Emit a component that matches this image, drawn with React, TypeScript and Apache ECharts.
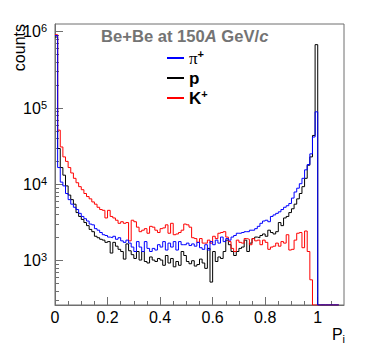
import React, { useEffect, useRef } from "react";
import * as echarts from "echarts";

// ---- histogram binning (bin i covers [i*BIN_WIDTH, (i+1)*BIN_WIDTH]) ----
const BIN_WIDTH = 0.01;

// ---- axis ranges ----
const X_MIN = 0;
const X_MAX = 1.1;
const Y_MIN_COUNT = 263;
const Y_MAX_COUNT = 1260000;

// ---- series: counts per bin ----
const pionCounts = [
  891000, 16600, 10700, 9550, 7590, 6310, 5500, 5010, 4680, 4170,
  3800, 3550, 3310, 3020, 2950, 2630, 2510, 2340, 2190, 2140,
  2040, 2000, 2090, 1910, 2000, 1820, 1740, 1860, 1700, 1510,
  1320, 1780, 1510, 1320, 1780, 1450, 1320, 1450, 1380, 1620,
  1510, 1780, 1380, 1700, 1510, 1780, 1380, 1780, 1620, 1620,
  1700, 1580, 1660, 1550, 1740, 1480, 1410, 1620, 1380, 1780,
  1620, 1860, 1700, 2040, 1780, 1950, 1860, 2040, 2140, 2290,
  2290, 2340, 2400, 2400, 2510, 2510, 2630, 2820, 3090, 3310,
  3390, 3240, 3800, 3980, 4170, 4370, 4680, 5010, 5250, 5620,
  6610, 7940, 8910, 10200, 12000, 15500, 18200, 25100, 41700, 89100,
  0, 0, 0, 0, 0, 0, 0, 0,
];

const protonCounts = [
  851000, 29500, 16600, 13200, 9550, 7240, 6310, 5500, 4270, 3800,
  3470, 3160, 2880, 2570, 2400, 2090, 2000, 1910, 1860, 1740,
  1780, 1260, 1740, 1550, 1410, 1320, 1050, 1660, 1350, 1200,
  1070, 1320, 1020, 1320, 977, 933, 1120, 1020, 977, 1070,
  1020, 871, 1170, 933, 1070, 832, 977, 871, 1320, 1170,
  977, 912, 1000, 851, 891, 1050, 933, 794, 1450, 525,
  1320, 977, 1120, 1070, 1320, 1860, 1620, 1320, 1170, 1320,
  1450, 1510, 1860, 1320, 1700, 1950, 2040, 2000, 2140, 2240,
  2090, 2510, 2340, 2240, 2400, 3160, 2880, 3630, 3800, 4270,
  4790, 5500, 6460, 7590, 9330, 12000, 17800, 22900, 43700, 676000,
  0, 0, 0, 0, 0, 0, 0, 0,
];

const kaonCounts = [
  912000, 51300, 30900, 22900, 20000, 16600, 14100, 12000, 10500, 9330,
  8510, 7590, 6920, 6460, 5890, 5500, 5010, 4680, 4570, 3630,
  4570, 3800, 3630, 3390, 3090, 3240, 3090, 3160, 1820, 3390,
  3240, 2750, 2400, 2510, 2630, 2290, 2820, 2750, 2510, 2340,
  2630, 2690, 2950, 2290, 3090, 2190, 2240, 2340, 2510, 3020,
  2950, 2750, 2000, 1950, 1740, 1950, 1700, 1700, 1860, 1700,
  2090, 1950, 2290, 2340, 2400, 2040, 1780, 1450, 1320, 1860,
  1740, 1700, 1950, 1910, 1620, 1950, 1820, 1860, 1620, 1860,
  1740, 1410, 1510, 1550, 1700, 1550, 1780, 1700, 2190, 1380,
  1410, 1860, 2290, 2340, 1480, 2450, 1320, 562, 0, 0,
  0, 0, 0, 0, 0, 0, 0, 0,
];

// ---- ticks ----
const xMajorTicks = [0, 0.2, 0.4, 0.6, 0.8, 1.0];
const xMinorTicks = [0.05, 0.1, 0.15, 0.25, 0.3, 0.35, 0.45, 0.5, 0.55, 0.65, 0.7, 0.75, 0.85, 0.9, 0.95, 1.05];
const yDecadeExponents = [3, 4, 5, 6];
const yMinorDecades = [2, 3, 4, 5];
const yMinorMantissas = [2, 3, 4, 5, 6, 7, 8, 9];

const FONT = "'Liberation Sans', Arial, Helvetica, sans-serif";
const FRAME = "#6f6f6f";

const LOG_MIN = Math.log10(Y_MIN_COUNT);
const LOG_MAX = Math.log10(Y_MAX_COUNT);

const toLog = (c: number) => (c > 0 ? Math.log10(c) : LOG_MIN);

function histPoints(counts: number[]) {
  const pts: number[][] = [];
  counts.forEach((c, i) => pts.push([i * BIN_WIDTH, toLog(c)]));
  pts.push([counts.length * BIN_WIDTH, toLog(counts[counts.length - 1])]);
  return pts;
}

const yMinorTicks: number[] = [];
yMinorDecades.forEach((d) =>
  yMinorMantissas.forEach((m) => {
    const v = Math.log10(m) + d;
    if (v >= LOG_MIN && v <= LOG_MAX) yMinorTicks.push(v);
  })
);

export default function App() {
  const ref = useRef<HTMLDivElement>(null);

  useEffect(() => {
    if (!ref.current) return;
    const chart = echarts.init(ref.current, undefined, { renderer: "svg" });

    const mkSeries = (name: string, counts: number[], color: string) => ({
      name,
      type: "line",
      step: "end",
      data: histPoints(counts),
      showSymbol: false,
      symbol: "none",
      color,
      lineStyle: { color, width: 1 },
      clip: true,
      xAxisIndex: 0,
      yAxisIndex: 0,
    });

    chart.setOption({
      animation: false,
      textStyle: { fontFamily: FONT },
      grid: {
        left: 55,
        top: 24,
        right: 30,
        bottom: 59,
        show: true,
        borderColor: FRAME,
        borderWidth: 1,
        outerBoundsMode: "none",
      },
      title: {
        text: "{n|Be+Be at 150}{i|A}{n| GeV/}{i|c}",
        left: 101,
        top: 27,
        padding: 0,
        textStyle: {
          rich: {
            n: { fontFamily: FONT, fontSize: 16.6, fontWeight: "bold", color: "#747474", lineHeight: 18 },
            i: { fontFamily: FONT, fontSize: 16.6, fontWeight: "bold", fontStyle: "italic", color: "#747474", lineHeight: 18 },
          },
        },
      },
      legend: {
        orient: "vertical",
        left: 167,
        top: 48,
        padding: 0,
        itemGap: 0,
        itemWidth: 17,
        itemHeight: 2,
        icon: "rect",
        data: ["π+", "p", "K+"],
        formatter: (name: string) => {
          if (name === "π+") return "{g|π}{s|+}";
          if (name === "p") return "{b|p}";
          return "{b|K}{s|+}";
        },
        textStyle: {
          lineHeight: 20,
          rich: {
            g: { fontFamily: "'Liberation Serif', 'DejaVu Serif', serif", fontSize: 17, lineHeight: 20, color: "#000", verticalAlign: "middle" },
            b: { fontFamily: FONT, fontSize: 17, fontWeight: "bold", lineHeight: 20, color: "#000", verticalAlign: "middle" },
            s: { fontFamily: FONT, fontSize: 11, fontWeight: "bold", lineHeight: 11, color: "#000", verticalAlign: "top" },
          },
        },
      },
      xAxis: [
        {
          type: "value",
          min: X_MIN,
          max: X_MAX,
          position: "bottom",
          axisLine: { show: true, lineStyle: { color: FRAME, width: 1 } },
          axisTick: { show: true, inside: true, length: 8, customValues: xMajorTicks, lineStyle: { color: FRAME } },
          axisLabel: {
            show: true,
            customValues: xMajorTicks,
            margin: 4,
            fontSize: 16,
            color: "#000",
            fontFamily: FONT,
            formatter: (v: number) => String(Math.round(v * 10) / 10),
          },
          splitLine: { show: false },
        },
        {
          type: "value",
          min: X_MIN,
          max: X_MAX,
          position: "bottom",
          axisLine: { show: false },
          axisTick: { show: true, inside: true, length: 4, customValues: xMinorTicks, lineStyle: { color: FRAME } },
          axisLabel: { show: false },
          splitLine: { show: false },
        },
      ],
      yAxis: [
        {
          type: "value",
          min: LOG_MIN,
          max: LOG_MAX,
          position: "left",
          axisLine: { show: true, lineStyle: { color: FRAME, width: 1 } },
          axisTick: { show: true, inside: true, length: 8, customValues: yDecadeExponents, lineStyle: { color: FRAME } },
          axisLabel: {
            show: true,
            customValues: yDecadeExponents,
            margin: 8,
            formatter: (v: number) => `{b|10}{s|${Math.round(v)}}`,
            rich: {
              b: { fontFamily: FONT, fontSize: 16, color: "#000", lineHeight: 18, verticalAlign: "middle" },
              s: { fontFamily: FONT, fontSize: 11, color: "#000", lineHeight: 11, verticalAlign: "top" },
            },
          },
          splitLine: { show: false },
        },
        {
          type: "value",
          min: LOG_MIN,
          max: LOG_MAX,
          position: "left",
          axisLine: { show: false },
          axisTick: { show: true, inside: true, length: 4, customValues: yMinorTicks, lineStyle: { color: FRAME } },
          axisLabel: { show: false },
          splitLine: { show: false },
        },
      ],
      graphic: [
        {
          type: "text",
          x: 19.5,
          y: 24,
          rotation: Math.PI / 2,
          style: {
            text: "counts",
            fontFamily: FONT,
            fontSize: 16,
            fill: "#000",
            align: "right",
            verticalAlign: "middle",
          },
        },
        {
          type: "text",
          x: 345,
          y: 324,
          style: {
            text: "{p|P}{s|i}",
            align: "right",
            verticalAlign: "top",
            rich: {
              p: { fontFamily: FONT, fontSize: 16, fill: "#000", lineHeight: 20, verticalAlign: "middle" },
              s: { fontFamily: FONT, fontSize: 11, fill: "#000", lineHeight: 11, verticalAlign: "bottom" },
            },
          },
        },
      ],
      series: [
        mkSeries("p", protonCounts, "#000000"),
        mkSeries("K+", kaonCounts, "#ff0000"),
        mkSeries("π+", pionCounts, "#0000ff"),
      ],
    });

    return () => chart.dispose();
  }, []);

  return (
    <div
      ref={ref}
      style={{ position: "absolute", left: 0, top: 0, width: 374, height: 364, background: "#fff" }}
    />
  );
}
